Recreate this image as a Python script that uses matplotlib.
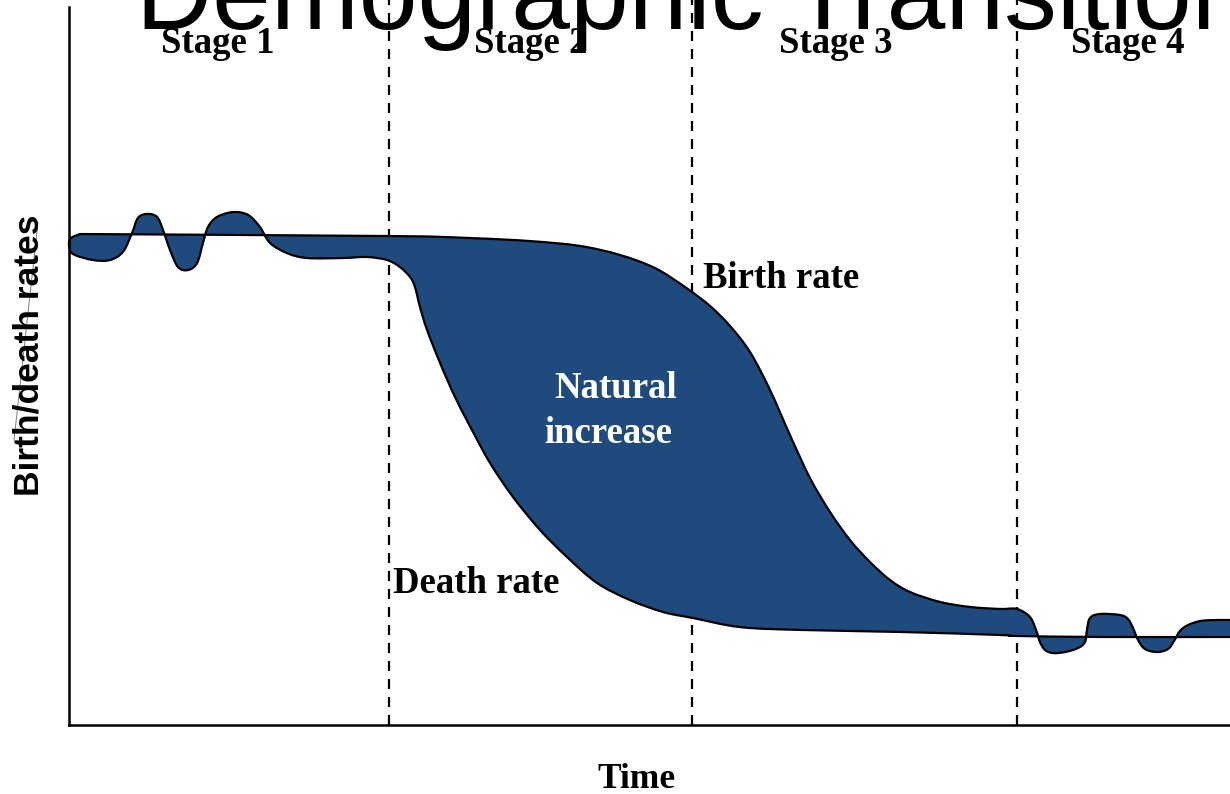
import numpy as np
import matplotlib
matplotlib.use("Agg")
import matplotlib.pyplot as plt
from matplotlib.lines import Line2D
from matplotlib.path import Path
from matplotlib.patches import PathPatch

# ---------------- data (time 0-100, rate per 1000) ----------------
stage_labels = ["Stage 1", "Stage 2", "Stage 3", "Stage 4"]
stage_bounds = [27.56, 53.66, 81.65]
stage_centers = [12.83, 39.79, 66.06, 91.21]

birth_t = [0.95, 27.65, 34.54, 39.71, 44.01, 47.46, 50.47, 53.06, 55.21, 56.93,
           58.66, 60.38, 62.10, 63.82, 65.55, 67.27, 68.99,
           70.71, 72.44, 75.02, 77.61, 80.19, 81.65, 82.77, 83.29, 83.63, 84.07,
           84.75, 85.79, 86.91, 87.51, 87.68, 87.94, 88.80, 90.53, 91.21, 91.65,
           92.08, 92.68, 93.71, 94.66, 95.18, 95.69, 96.38, 97.42, 98.71, 100.0]
birth_r = [34.19, 34.05, 33.91, 33.70, 33.36, 32.73, 31.82, 30.50, 29.18, 27.79,
           25.97, 23.33, 20.19, 17.20, 14.83, 12.88, 11.35,
           10.10, 9.26, 8.57, 8.22, 8.08, 8.08, 7.52, 6.62, 5.78, 5.22,
           5.01, 5.08, 5.36, 5.78, 6.62, 7.45, 7.73, 7.66, 7.38, 6.75,
           5.92, 5.29, 5.08, 5.29, 5.85, 6.55, 6.96, 7.24, 7.31, 7.31]

death_t = [0.95, 0.17, 0.0, 0.34, 2.07, 3.53, 4.65, 5.43, 5.94, 6.72,
           7.58, 8.10, 8.70, 9.39, 10.25, 11.03, 11.54, 11.97, 12.75, 14.13,
           15.42, 16.45, 17.31, 18.78, 20.50, 23.60, 25.67, 27.39, 28.51, 29.37,
           29.80, 30.23, 30.84, 31.96, 33.25, 34.71, 36.26, 38.24, 40.57, 42.89,
           45.48, 48.32, 51.16, 53.75, 57.79, 62.96, 71.58, 80.19, 81.65, 88.80, 100.0]
death_r = [34.19, 33.91, 33.43, 32.80, 32.38, 32.38, 32.95, 34.26, 35.31, 35.59,
           35.38, 34.47, 33.08, 31.89, 31.68, 32.17, 33.57, 34.68, 35.38, 35.72,
           35.52, 34.68, 33.57, 32.86, 32.52, 32.52, 32.59, 32.38, 31.89, 31.20,
           30.50, 29.11, 27.51, 25.21, 22.84, 20.54, 18.25, 15.88, 13.58, 11.70,
           9.89, 8.70, 7.87, 7.45, 6.82, 6.62, 6.48, 6.27, 6.20, 6.13, 6.13]

title = "Demographic Transition"
xlabel = "Time"
ylabel = "Birth/death rates"


def smooth_path_parts(xs, ys):
    """Cubic Bezier control structure (Catmull-Rom) through the given points."""
    p = np.column_stack([xs, ys]).astype(float)
    n = len(p)
    verts = [p[0]]
    codes = []
    for i in range(n - 1):
        p0 = p[i - 1] if i > 0 else p[i]
        p1 = p[i]
        p2 = p[i + 1]
        p3 = p[i + 2] if i + 2 < n else p[i + 1]
        c1 = p1 + (p2 - p0) / 6.0
        c2 = p2 - (p3 - p1) / 6.0
        verts += [c1, c2, p2]
        codes += [Path.CURVE4] * 3
    return verts, codes


# ---------------- figure ----------------
W, H = 1230, 794
fig = plt.figure(figsize=(W / 100, H / 100), dpi=100)
ax = fig.add_axes([69 / W, (H - 725) / H, 1161 / W, 718 / H])
ax.set_xlim(0, 100)
ax.set_ylim(0, 50)

fill_col = "#1F4A7E"

bv, bc = smooth_path_parts(birth_t, birth_r)
dv, dc = smooth_path_parts(death_t[::-1], death_r[::-1])
fill_verts = bv + dv + [bv[0]]
fill_codes = [Path.MOVETO] + bc + [Path.LINETO] + dc + [Path.CLOSEPOLY]
ax.add_patch(PathPatch(Path(fill_verts, fill_codes), facecolor=fill_col,
                       edgecolor="none", zorder=2, clip_on=False))

for xs, ys in [(birth_t, birth_r), (death_t, death_r)]:
    v, c = smooth_path_parts(xs, ys)
    ax.add_patch(PathPatch(Path(v, [Path.MOVETO] + c), facecolor="none",
                           edgecolor="black", lw=1.6, zorder=3,
                           joinstyle="round", capstyle="round", clip_on=False))

for b in stage_bounds:
    ax.axvline(b, ymin=0, ymax=1.012, color="black", lw=1.6,
               linestyle=(0, (4.5, 3.6)), zorder=1, clip_on=False)

for s in ["top", "right"]:
    ax.spines[s].set_visible(False)
for s in ["left", "bottom"]:
    ax.spines[s].set_linewidth(1.8)
    ax.spines[s].set_color("black")
ax.set_xticks([])
ax.set_yticks([])

serif = "Liberation Serif"
sans = "Liberation Sans"

# stage labels
for lab, c in zip(stage_labels, stage_centers):
    x_fig = (69 + c * 11.61) / W
    fig.text(x_fig, 1 - 53 / H, lab, family=serif, weight="bold", fontsize=26.5,
             ha="center", va="baseline", zorder=5)

# title
fig.text(136 / W, 1 - 29 / H, title, family=sans, fontsize=76,
         ha="left", va="baseline", zorder=6)

# annotations
ax.text(54.6, 30.43, "Birth rate", family=serif, weight="bold", fontsize=26.5,
        ha="left", va="baseline", zorder=5)
ax.text(27.9, 9.19, "Death rate", family=serif, weight="bold", fontsize=26.5,
        ha="left", va="baseline", zorder=5)
ax.text(47.1, 22.77, "Natural", family=serif, weight="bold", fontsize=26.5,
        color="white", ha="center", va="baseline", zorder=5)
ax.text(46.47, 19.64, "increase", family=serif, weight="bold", fontsize=26.5,
        color="white", ha="center", va="baseline", zorder=5)

# axis labels
fig.text(636 / W, 1 - 788 / H, xlabel, family=serif, weight="bold", fontsize=25.5,
         ha="center", va="baseline")
fig.text(29 / W, 1 - 355 / H, ylabel, family=sans, weight="bold", fontsize=25.5,
         rotation=90, ha="center", va="center")
fig.add_artist(Line2D([14 / W, 38 / W], [1 - 440 / H, 1 - 222 / H],
                      color="#808080", lw=0.7))

fig.savefig("out.png", dpi=100, facecolor="white")
